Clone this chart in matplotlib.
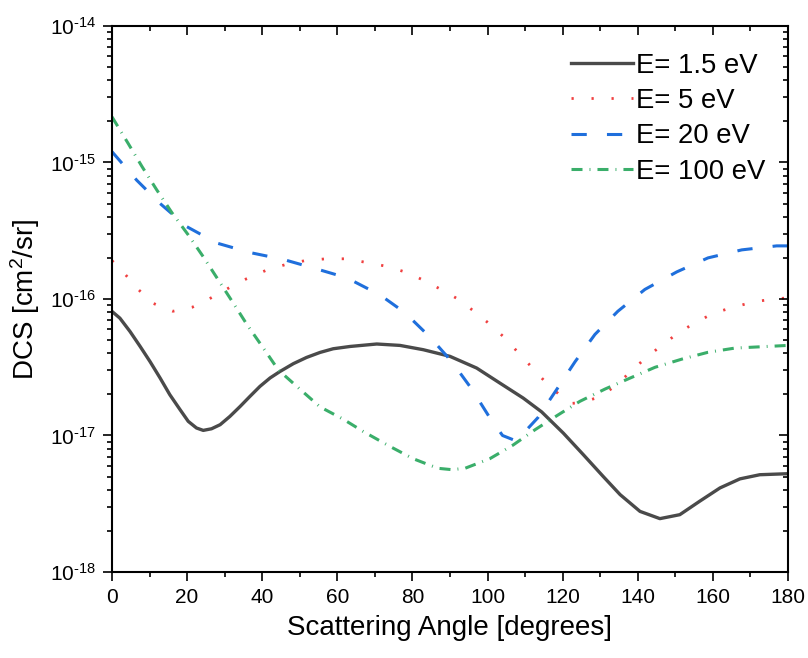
import matplotlib
matplotlib.use("Agg")
import matplotlib.pyplot as plt
from matplotlib.ticker import LogLocator, MultipleLocator, NullFormatter, FuncFormatter
import numpy as np

plt.rcParams["font.family"] = ["Liberation Sans", "DejaVu Sans"]
plt.rcParams["mathtext.fontset"] = "custom"
plt.rcParams["mathtext.rm"] = "Liberation Sans"
plt.rcParams["mathtext.it"] = "Liberation Sans:italic"
plt.rcParams["mathtext.default"] = "regular"

# E = 1.5 eV
angle_15 = [0, 2.1, 4.8, 7.5, 10.1, 12.8, 15.4, 18.1, 20.3, 22.5, 24.3, 26.5, 28.8, 31.4, 34.1,
            36.7, 39.4, 42.1, 44.7, 48.3, 51.8, 55.4, 58.9, 63.4, 70.5, 76.7, 82.9, 90, 97.1,
            103.3, 109.5, 114.4, 120.2, 125.5, 130.8, 135.3, 140.6, 145.9, 151.2, 156.5, 161.9,
            167.2, 172.5, 180]
dcs_15 = [8.11e-17, 7.24e-17, 5.78e-17, 4.49e-17, 3.49e-17, 2.64e-17, 1.99e-17, 1.55e-17, 1.27e-17,
          1.135e-17, 1.09e-17, 1.12e-17, 1.20e-17, 1.38e-17, 1.63e-17, 1.93e-17, 2.29e-17, 2.64e-17,
          2.94e-17, 3.36e-17, 3.73e-17, 4.06e-17, 4.32e-17, 4.49e-17, 4.68e-17, 4.57e-17, 4.25e-17,
          3.80e-17, 3.12e-17, 2.42e-17, 1.88e-17, 1.49e-17, 1.04e-17, 7.24e-18, 5.01e-18, 3.69e-18,
          2.78e-18, 2.46e-18, 2.63e-18, 3.30e-18, 4.13e-18, 4.81e-18, 5.16e-18, 5.25e-18]

# E = 5 eV
angle_5 = [0, 3.2, 7, 10.8, 16.2, 21.4, 26.4, 31, 35.9, 41, 46, 51.4, 57, 62.3, 67.4, 72.9, 78,
           82.8, 87.6, 92.1, 96.4, 100.4, 104.4, 108.1, 111.8, 115.5, 119.5, 122.5, 124.9, 129.7,
           133.9, 138.2, 142.2, 146.4, 150.7, 155.5, 160.5, 165.6, 170.9, 176.5, 180]
dcs_5 = [1.91e-16, 1.55e-16, 1.175e-16, 9.33e-17, 8.13e-17, 8.71e-17, 1.02e-16, 1.20e-16, 1.41e-16,
         1.62e-16, 1.78e-16, 1.91e-16, 1.97e-16, 1.97e-16, 1.86e-16, 1.74e-16, 1.58e-16, 1.38e-16,
         1.175e-16, 1.0e-16, 8.13e-17, 6.61e-17, 5.25e-17, 4.07e-17, 3.16e-17, 2.45e-17, 1.95e-17,
         1.72e-17, 1.74e-17, 1.91e-17, 2.29e-17, 2.95e-17, 3.72e-17, 4.57e-17, 5.62e-17, 6.76e-17,
         7.94e-17, 8.71e-17, 9.55e-17, 1.0e-16, 1.02e-16]

# E = 20 eV
angle_20 = [0, 6.6, 12.8, 19.9, 27.9, 36.7, 45.6, 54.5, 62.5, 71.4, 78, 84.7, 90.5, 95.8, 100.6,
            104, 107.3, 110, 113.4, 118.5, 123.3, 128.6, 134.7, 141.9, 150.4, 158.7, 167.7, 177, 180]
dcs_20 = [1.20e-15, 7.41e-16, 5.01e-16, 3.39e-16, 2.57e-16, 2.19e-16, 1.95e-16, 1.66e-16, 1.43e-16,
          1.07e-16, 7.94e-17, 5.25e-17, 3.47e-17, 2.19e-17, 1.35e-17, 1.0e-17, 9.2e-18, 1.07e-17,
          1.35e-17, 2.19e-17, 3.47e-17, 5.50e-17, 8.13e-17, 1.175e-16, 1.58e-16, 2.0e-16, 2.29e-16,
          2.45e-16, 2.45e-16]

# E = 100 eV
angle_100 = [0, 4.3, 8, 11.9, 16, 20.3, 24.3, 28.3, 32.3, 36, 40.3, 44.3, 50, 55.4, 61.5, 66.9, 74,
             80.2, 86.8, 90.5, 94, 100.6, 106.8, 112.6, 118.7, 124.6, 131.3, 137.9, 144.6, 151.8,
             158.7, 165.9, 173, 180]
dcs_100 = [2.16e-15, 1.38e-15, 9.33e-16, 6.31e-16, 4.27e-16, 2.95e-16, 2.04e-16, 1.38e-16, 9.33e-17,
           6.46e-17, 4.37e-17, 3.02e-17, 2.19e-17, 1.62e-17, 1.32e-17, 1.07e-17, 8.32e-18, 6.76e-18,
           5.75e-18, 5.62e-18, 5.75e-18, 6.76e-18, 8.51e-18, 1.10e-17, 1.41e-17, 1.78e-17, 2.19e-17,
           2.63e-17, 3.16e-17, 3.63e-17, 4.07e-17, 4.37e-17, 4.47e-17, 4.57e-17]

y_ticks = [1e-18, 1e-17, 1e-16, 1e-15, 1e-14]

fig = plt.figure(figsize=(8.08, 6.58), dpi=100)
pos = [0.1386, 0.1307, 0.8366, 0.8298]
ax = fig.add_axes(pos)

ax.plot(angle_15, dcs_15, color="#4a4a4a", lw=2.4, label="E= 1.5 eV")
ax.plot(angle_5, dcs_5, color="#f04040", lw=2.0, dashes=(0.8, 6.4), label="E= 5 eV")
ax.plot(angle_20, dcs_20, color="#1f6fdc", lw=2.2, dashes=(5.0, 6.6), label="E= 20 eV")
ax.plot(angle_100, dcs_100, color="#3aae6a", lw=2.2, dashes=(3.6, 2.3, 0.3, 2.3), label="E= 100 eV")

ax.set_yscale("log")
ax.set_xlim(0, 180)
ax.set_ylim(1e-18, 1e-14)


def pow_label(v, pos):
    e = int(round(np.log10(v)))
    return r"$10^{\text{%d}}$" % e


ax.xaxis.set_major_locator(MultipleLocator(20))
ax.xaxis.set_minor_locator(MultipleLocator(10))
ax.set_yticks(y_ticks)
ax.yaxis.set_minor_locator(LogLocator(base=10, subs=range(2, 10), numticks=20))
ax.yaxis.set_major_formatter(FuncFormatter(pow_label))
ax.yaxis.set_minor_formatter(NullFormatter())
ax.set_xlim(0, 180)
ax.set_ylim(1e-18, 1e-14)

for s in ax.spines.values():
    s.set_linewidth(1.5)

ax.tick_params(which="both", direction="out", width=1.2, labelsize=15)
ax.tick_params(which="major", length=6.5, pad=5)
ax.tick_params(which="minor", length=3.5)

# mirror ticks on top and right, pointing inward
ov = fig.add_axes(pos, sharex=ax, sharey=ax)
ov.patch.set_visible(False)
for s in ov.spines.values():
    s.set_visible(False)
ov.tick_params(which="both", direction="in", width=1.2, top=True, right=True,
               bottom=False, left=False, labelbottom=False, labelleft=False)
ov.tick_params(which="major", length=6.5)
ov.tick_params(which="minor", length=3.5)

ax.set_xlabel("Scattering Angle [degrees]", fontsize=20, labelpad=6)
ax.set_ylabel("DCS [cm$^2$/sr]", fontsize=20, labelpad=6)

ax.legend(loc="upper left", bbox_to_anchor=(0.679, 0.951), frameon=False, fontsize=19.8,
          handlelength=2.25, handletextpad=0.1, labelspacing=0.34, borderpad=0, borderaxespad=0)

fig.savefig("out.png", dpi=100)
